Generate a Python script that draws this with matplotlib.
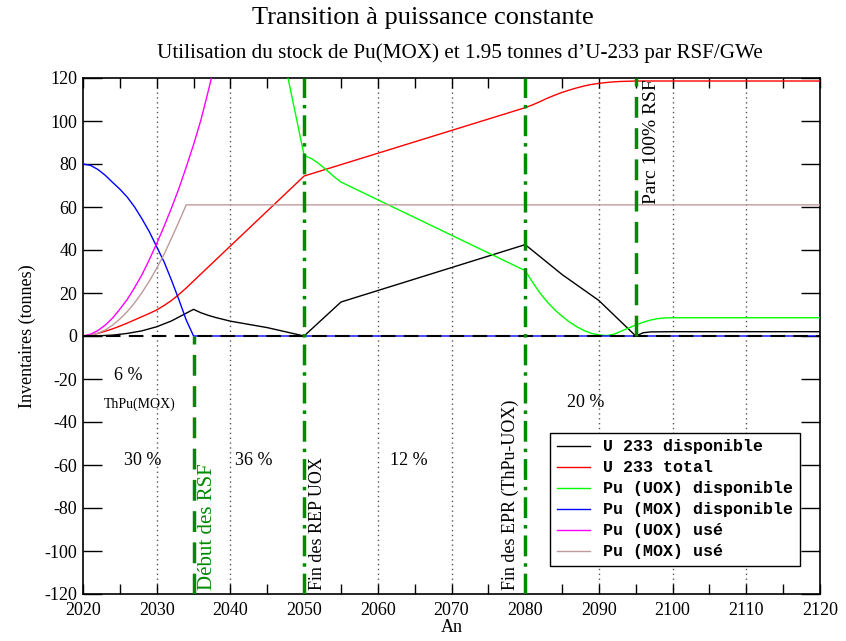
import matplotlib
matplotlib.use("Agg")
import matplotlib.pyplot as plt
from matplotlib.ticker import MultipleLocator

plt.rcParams["axes.unicode_minus"] = False

# ---- data ----
u233_disp_x = [2020, 2022, 2024, 2026, 2028, 2030, 2032, 2034, 2035, 2036, 2037, 2038, 2040,
               2045, 2050, 2055, 2080, 2085, 2090, 2095, 2096, 2097, 2100, 2120]
u233_disp_y = [0, 0.1, 0.4, 1.2, 2.4, 4.3, 7, 10.6, 12.4, 10.8, 9.6, 8.6, 6.9,
               3.9, 0, 15.8, 42.5, 28.6, 16.5, 0, 1.5, 1.9, 2, 2]

u233_tot_x = [2020, 2021, 2022, 2023, 2024, 2025, 2026, 2027, 2028, 2029, 2030, 2031, 2032,
              2033, 2034, 2035, 2050, 2080, 2081, 2082, 2083, 2084, 2085, 2086, 2087, 2088,
              2089, 2090, 2091, 2092, 2093, 2094, 2095, 2120]
u233_tot_y = [0, 0.4, 1.2, 2.2, 3.3, 4.6, 6, 7.5, 9, 10.5, 12.1, 14.2, 16.5,
              19.3, 22.3, 25.6, 74.4, 106.2, 107.5, 109, 110.6, 112, 113.3, 114.4, 115.4, 116.3,
              117, 117.5, 117.9, 118.2, 118.4, 118.5, 118.6, 118.6]

pu_uox_disp_x = [2044, 2046, 2048, 2050, 2051, 2052, 2053, 2054, 2055, 2080, 2081, 2082,
                 2083, 2084, 2085, 2086, 2087, 2088, 2089, 2090, 2091, 2092, 2093, 2094,
                 2095, 2096, 2097, 2098, 2099, 2100, 2120]
pu_uox_disp_y = [185, 150, 117, 84, 82.5, 80.2, 77.3, 74.3, 71.6, 30.4, 25, 20,
                 15.8, 12.2, 9.2, 6.5, 4.3, 2.5, 1.2, 0.5, 0.2, 0.8, 2.2, 3.7,
                 5.1, 6.4, 7.4, 8.1, 8.4, 8.5, 8.5]

pu_mox_disp_x = [2020, 2021, 2022, 2023, 2024, 2025, 2026, 2027, 2028, 2029, 2030, 2031,
                 2032, 2033, 2034, 2035, 2120]
pu_mox_disp_y = [80, 79.4, 77.5, 74.8, 71.5, 68.3, 64.6, 60, 54.5, 48.5, 41.5, 34.5,
                 26, 17, 7.5, 0, 0]

pu_uox_use_x = [2020, 2021, 2022, 2023, 2024, 2025, 2026, 2027, 2028, 2029, 2030, 2031,
                2032, 2033, 2034, 2035, 2036, 2037, 2038]
pu_uox_use_y = [0, 0.8, 2.5, 5, 8.3, 12.5, 17, 22.5, 28.5, 35.5, 43, 51,
                59.5, 68.5, 78.5, 89, 100.5, 114, 128]

pu_mox_use_x = [2020, 2021, 2022, 2023, 2024, 2025, 2026, 2027, 2028, 2029, 2030, 2031,
                2032, 2033, 2034, 2120]
pu_mox_use_y = [0, 0.3, 1.3, 2.8, 5, 7.9, 11.3, 15.4, 20.2, 25.5, 31.5, 38,
                45.4, 53, 61, 61]

series = [
    ("U 233 disponible", u233_disp_x, u233_disp_y, "#000000"),
    ("U 233 total", u233_tot_x, u233_tot_y, "#ff0000"),
    ("Pu (UOX) disponible", pu_uox_disp_x, pu_uox_disp_y, "#00ff00"),
    ("Pu (MOX) disponible", pu_mox_disp_x, pu_mox_disp_y, "#0000ff"),
    ("Pu (UOX) usé", pu_uox_use_x, pu_uox_use_y, "#ff00ff"),
    ("Pu (MOX) usé", pu_mox_use_x, pu_mox_use_y, "#c09a9a"),
]

serif = ["Liberation Serif", "DejaVu Serif"]
mono = ["Liberation Mono", "DejaVu Sans Mono"]

fig = plt.figure(figsize=(8.46, 6.41), dpi=100)
ax = fig.add_axes([83/846, 1-594/641, (820-83)/846, (594-78)/641])

ax.set_xlim(2020, 2120)
ax.set_ylim(-120, 120)

# grid (dotted verticals at major ticks)
for gx in [2030, 2040, 2060, 2070, 2090, 2100, 2110]:
    ax.axvline(gx, color="#555555", lw=1.0, ls=(0, (1, 2.5)), zorder=1)

for lab, xs, ys, c in series:
    ax.plot(xs, ys, color=c, lw=1.0, label=lab, zorder=3)

ax.axhline(0, color="black", lw=1.5, ls=(0, (7, 4)), zorder=4)

green = "#008a00"
ax.plot([2035, 2035], [-120, 0], color=green, lw=2.5, ls=(0, (6, 3)), zorder=5)
ax.plot([2095, 2095], [0, 120], color=green, lw=2.5, ls=(0, (6, 3)), zorder=5)
for vx in [2050, 2080]:
    ax.axvline(vx, color=green, lw=2.5, ls=(0, (6, 2, 1, 2)), zorder=5)

# ticks
ax.xaxis.set_major_locator(MultipleLocator(10))
ax.xaxis.set_minor_locator(MultipleLocator(5))
ax.yaxis.set_major_locator(MultipleLocator(20))
ax.tick_params(axis="x", which="both", direction="in", top=True, length=7, width=1,
               labelsize=13, pad=6)
ax.tick_params(axis="y", which="both", direction="in", right=True, length=14, width=1,
               labelsize=13, pad=4)
for t in ax.get_xticklabels() + ax.get_yticklabels():
    t.set_family(serif)
for s in ax.spines.values():
    s.set_linewidth(1.2)

ax.set_xlabel("An", family=serif, fontsize=13, labelpad=0)
ax.set_ylabel("Inventaires (tonnes)", family=serif, fontsize=13, labelpad=6)

fig.text(0.5, 1-18/641, "Transition à puissance constante", ha="center", va="center",
         family=serif, fontsize=19)
fig.text(460/846, 1-53/641, "Utilisation du stock de Pu(MOX) et 1.95 tonnes d\u2019U-233 par RSF/GWe",
         ha="center", va="center", family=serif, fontsize=15.2)

# annotations
ax.text(2026.1, -18.6, "6 %", ha="center", va="center", family=serif, fontsize=13)
ax.text(2027.7, -31.6, "ThPu(MOX)", ha="center", va="center", family=serif, fontsize=10)
ax.text(2028.1, -57.7, "30 %", ha="center", va="center", family=serif, fontsize=13)
ax.text(2043.2, -57.7, "36 %", ha="center", va="center", family=serif, fontsize=13)
ax.text(2064.2, -57.7, "12 %", ha="center", va="center", family=serif, fontsize=13)
ax.text(2088.2, -31.0, "20 %", ha="center", va="center", family=serif, fontsize=13)

ax.text(2036.9, -118, "Début des RSF", rotation=90, ha="center", va="bottom",
        family=serif, fontsize=15, color=green)
ax.text(2051.8, -118, "Fin des REP UOX", rotation=90, ha="center", va="bottom",
        family=serif, fontsize=13)
ax.text(2078.0, -118, "Fin des EPR (ThPu-UOX)", rotation=90, ha="center", va="bottom",
        family=serif, fontsize=13)
ax.text(2097.1, 61.5, "Parc 100% RSF", rotation=90, ha="center", va="bottom",
        family=serif, fontsize=14)

leg = ax.legend(loc="lower right", bbox_to_anchor=(0.973, 0.054),
                prop={"family": mono, "weight": "bold", "size": 12},
                frameon=True, fancybox=False, framealpha=1, edgecolor="black",
                handlelength=2.0, labelspacing=0.36, borderpad=0.4, handletextpad=0.8,
                borderaxespad=0)
leg.get_frame().set_linewidth(1.0)
leg.set_zorder(10)

fig.savefig("out.png", dpi=100)
